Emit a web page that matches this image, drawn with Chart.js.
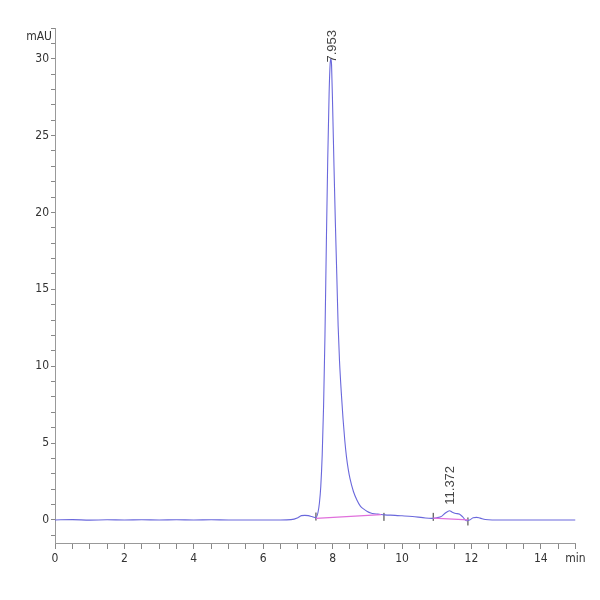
<!DOCTYPE html>
<html>
<head>
<meta charset="utf-8">
<script src="https://cdn.jsdelivr.net/npm/chart.js@4.4.1/dist/chart.umd.min.js"></script>
<style>
  html, body { margin: 0; padding: 0; background: #fff; }
  #wrap { width: 600px; height: 600px; }
</style>
</head>
<body>
<div id="wrap"><canvas id="chrom"></canvas></div>
<script>
// retention time (min) and signal (mAU)
const times = [0, 0.5, 1.0, 1.5, 2.0, 2.5, 3.0, 3.5, 4.0, 4.5, 5.0, 5.5, 6.0, 6.5, 6.8,
  7.0, 7.1, 7.2, 7.3, 7.4, 7.52, 7.58, 7.62, 7.66, 7.7, 7.74, 7.78, 7.82, 7.86, 7.9,
  7.93, 7.953, 7.97, 8.0, 8.04, 8.08, 8.12, 8.16, 8.2, 8.25, 8.3, 8.35, 8.4, 8.45, 8.5,
  8.6, 8.7, 8.8, 8.9, 9.0, 9.1, 9.2, 9.3, 9.4, 9.5, 9.8, 10.0, 10.3, 10.6, 10.85,
  11.0, 11.15, 11.25, 11.372, 11.45, 11.55, 11.65, 11.75, 11.85, 11.95, 12.05, 12.15,
  12.25, 12.4, 12.6, 13.0, 13.5, 14.0, 14.5, 15.0];
const signal = [0, 0.02, -0.01, 0.01, 0, 0.01, 0, 0.01, 0, 0.01, 0, 0, 0, 0, 0.02,
  0.15, 0.28, 0.3, 0.28, 0.22, 0.15, 0.5, 1.1, 2.2, 4.2, 7.4, 12, 18, 23.5, 27.8,
  29.7, 30.0, 29.6, 27, 23, 19.3, 16, 12.6, 10.3, 8.3, 6.6, 5.2, 4.1, 3.3, 2.7,
  1.85, 1.3, 0.9, 0.7, 0.55, 0.45, 0.4, 0.38, 0.35, 0.33, 0.3, 0.27, 0.22, 0.15, 0.1,
  0.14, 0.25, 0.45, 0.6, 0.5, 0.42, 0.38, 0.2, -0.05, 0, 0.14, 0.17,
  0.12, 0.03, 0, 0, 0, 0, 0, 0];

// integration baselines (start/end of each peak)
const baseStart = [7.52, 10.9];
const baseStartY = [0.1, 0.12];
const baseEnd = [9.4, 11.9];
const baseEndY = [0.35, 0.0];

// peak start/stop marks
const markTimes = [7.52, 9.48, 10.9, 11.9];
const markY = [0.22, 0.2, 0.2, -0.1];

// peak labels
const peakTimes = [7.953, 11.372];
const peakTops = [30.0, 0.6];
const peakLabels = ["7.953", "11.372"];

const tickFont = { family: "'Liberation Sans Narrow', 'DejaVu Sans Condensed', sans-serif", size: 12 };

const traceData = times.map((t, i) => ({ x: t, y: signal[i] }));
const baseData = [];
baseStart.forEach((t, i) => {
  baseData.push({ x: t, y: baseStartY[i] });
  baseData.push({ x: baseEnd[i], y: baseEndY[i] });
  baseData.push({ x: baseEnd[i], y: null });
});
const markData = markTimes.map((t, i) => ({ x: t, y: markY[i] }));

const extras = {
  id: 'extras',
  afterDatasetsDraw(chart) {
    const ctx = chart.ctx;
    const xs = chart.scales.x, ys = chart.scales.y;
    const area = chart.chartArea;
    ctx.save();
    ctx.fillStyle = '#444';
    ctx.font = "13px 'Liberation Sans', 'DejaVu Sans', sans-serif";
    peakTimes.forEach((t, i) => {
      const px = xs.getPixelForValue(t);
      const w = ctx.measureText(peakLabels[i]).width;
      let py = ys.getPixelForValue(peakTops[i]) - 6;
      // keep the label inside the plot top
      if (py - w < area.top + 2) py = area.top + 2 + w;
      ctx.save();
      ctx.translate(px + 1, py);
      ctx.rotate(-Math.PI / 2);
      ctx.textAlign = 'left';
      ctx.textBaseline = 'middle';
      ctx.fillText(peakLabels[i], 0, 0);
      ctx.restore();
    });
    // unit label at top of y axis
    ctx.font = "12px 'Liberation Sans Narrow', 'DejaVu Sans Condensed', sans-serif";
    ctx.fillStyle = '#333';
    ctx.textAlign = 'right';
    ctx.textBaseline = 'middle';
    ctx.fillText('mAU', xs.left - 3, ys.getPixelForValue(31.45));
    ctx.restore();
  }
};

new Chart(document.getElementById('chrom'), {
  type: 'line',
  data: {
    datasets: [
      {
        data: baseData,
        borderColor: '#e070dc',
        borderWidth: 1.2,
        pointRadius: 0,
        spanGaps: false
      },
      {
        data: traceData,
        borderColor: '#6a68dc',
        borderWidth: 1.1,
        pointRadius: 0,
        cubicInterpolationMode: 'monotone'
      },
      {
        type: 'scatter',
        data: markData,
        pointStyle: 'line',
        rotation: 90,
        radius: 4,
        borderColor: '#333',
        borderWidth: 1
      }
    ]
  },
  options: {
    responsive: true,
    maintainAspectRatio: false,
    animation: false,
    layout: { padding: { top: 28, right: 24.5, left: 0, bottom: 0 } },
    plugins: { legend: { display: false }, tooltip: { enabled: false } },
    scales: {
      x: {
        type: 'linear',
        min: 0,
        max: 15,
        afterFit: s => { s.height = 57; },
        border: { color: '#999', width: 1 },
        grid: { drawOnChartArea: false, drawTicks: true, tickLength: 6, color: '#888' },
        ticks: {
          stepSize: 0.5,
          autoSkip: false,
          maxRotation: 0,
          includeBounds: false,
          padding: 3,
          color: '#333',
          font: tickFont,
          callback: v => v === 15 ? 'min' : (v % 2 === 0 ? String(v) : '')
        }
      },
      y: {
        min: -1.5,
        max: 32,
        afterFit: s => { s.width = 55; },
        border: { color: '#999', width: 1 },
        grid: { drawOnChartArea: false, drawTicks: true, tickLength: 4, color: '#888' },
        ticks: {
          stepSize: 1,
          autoSkip: false,
          includeBounds: false,
          padding: 2,
          color: '#333',
          font: tickFont,
          callback: v => (v % 5 === 0 ? String(v) : '')
        }
      }
    }
  },
  plugins: [extras]
});
</script>
</body>
</html>
